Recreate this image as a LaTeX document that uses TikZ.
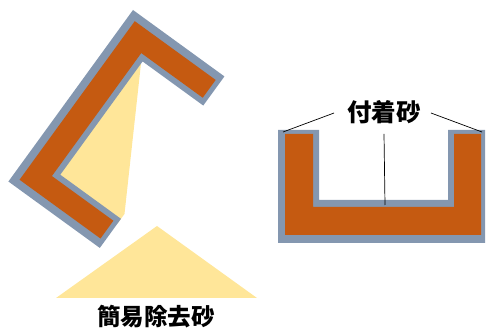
\documentclass[tikz,border=0pt]{standalone}
\usepackage{fontspec}
\newfontfamily\cjk{Noto Sans CJK JP}
\definecolor{sandgray}{HTML}{8497B0}
\definecolor{rustorange}{HTML}{C55A11}
\definecolor{sandyellow}{HTML}{FFE699}
\tikzset{
  sandlayer/.style={fill=sandgray, draw=none},
  moldbody/.style={fill=rustorange, draw=none},
  looseheap/.style={fill=sandyellow, draw=none},
  caption/.style={font=\cjk\bfseries\fontsize{23.5}{24}\selectfont, inner sep=0pt},
  leader/.style={draw=black, line width=0.7pt}
}
\begin{document}
\begin{tikzpicture}[x=1pt,y=1pt]
\useasboundingbox (0,0) rectangle (486,331);

% tilted mould with its sand coating, loose sand spilling from the opening
\begin{scope}[shift={(133,321)}, rotate=-126]
  \fill[looseheap] (30,33) -- (182,33) -- (182,113) -- (170,113) -- cycle;
  \fill[sandlayer] (0,0) -- (212,0) -- (212,113) -- (176,113) -- (176,38)
                   -- (36,38) -- (36,113) -- (0,113) -- cycle;
  \fill[moldbody] (8,8) -- (204,8) -- (204,108) -- (182,108) -- (182,32)
                  -- (30,32) -- (30,108) -- (8,108) -- cycle;
\end{scope}

% heap of removed sand
\fill[looseheap] (157,105) -- (257,33) -- (56,33) -- cycle;
\node[caption] (removed) at (156,14) {簡易除去砂};

% upright mould with its sand coating
\fill[sandlayer] (278,88) -- (485,88) -- (485,201) -- (448,201) -- (448,131)
                 -- (319,131) -- (319,201) -- (278,201) -- cycle;
\fill[moldbody] (285,96) -- (481,96) -- (481,197) -- (454,197) -- (454,124)
                -- (313,124) -- (313,197) -- (285,197) -- cycle;

% label with leaders to the coated faces
\node[caption, font=\cjk\bfseries\fontsize{24.5}{25}\selectfont] (adhered) at (384,219) {付着砂};
\coordinate (leftface) at (283,199);
\coordinate (bottomface) at (385,126);
\coordinate (rightface) at (482,199);
\draw[leader] ([xshift=-13pt,yshift=-1pt]adhered.west) -- (leftface);
\draw[leader] ([xshift=10pt,yshift=-1pt]adhered.east) -- (rightface);
\draw[leader] ([yshift=-10pt]adhered.south) -- (bottomface);
\end{tikzpicture}
\end{document}
